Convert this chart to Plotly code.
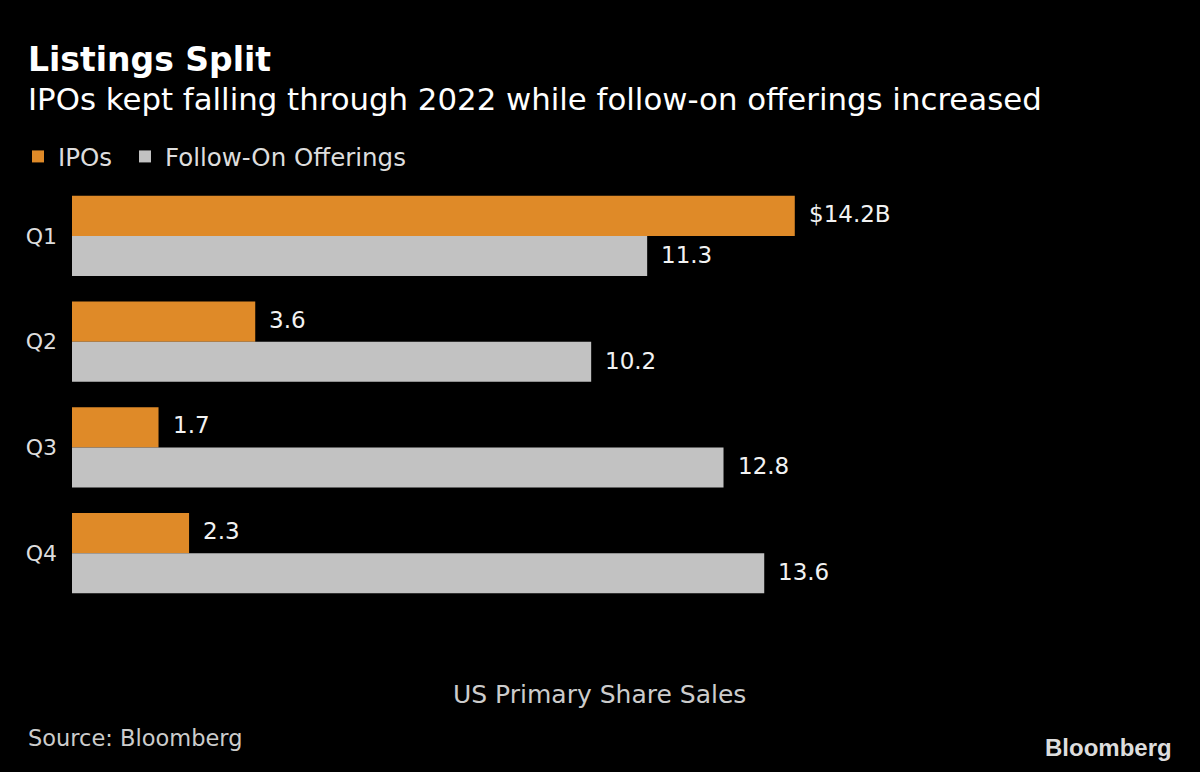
import plotly.graph_objects as go

quarters = ["Q1", "Q2", "Q3", "Q4"]
ipos = [14.2, 3.6, 1.7, 2.3]
follow_on = [11.3, 10.2, 12.8, 13.6]
ipo_labels = ["$14.2B", "3.6", "1.7", "2.3"]
follow_labels = ["11.3", "10.2", "12.8", "13.6"]

ORANGE = "#DF8A28"
GREY = "#C2C2C2"
FONT = "DejaVu Sans, sans-serif"

W, H = 1200, 772
ML, MR, MT, MB = 72, 74, 183, 166
PW, PH = W - ML - MR, H - MT - MB


def px_x(x):
    return (x - ML) / PW


def px_y(y):
    return (H - MB - y) / PH


fig = go.Figure()
fig.add_trace(go.Bar(y=quarters, x=ipos, orientation="h", name="IPOs", legend="legend",
                     marker=dict(color=ORANGE, line=dict(width=0))))
fig.add_trace(go.Bar(y=quarters, x=follow_on, orientation="h", name="Follow-On Offerings",
                     legend="legend2", marker=dict(color=GREY, line=dict(width=0))))

annotations = []
for q, v, t in zip(quarters, ipos, ipo_labels):
    annotations.append(dict(x=v, y=q, text=t, xref="x", yref="y", xanchor="left",
                            yanchor="middle", xshift=12, yshift=22, showarrow=False,
                            font=dict(size=23, color="#F2F2F2", family=FONT)))
for q, v, t in zip(quarters, follow_on, follow_labels):
    annotations.append(dict(x=v, y=q, text=t, xref="x", yref="y", xanchor="left",
                            yanchor="middle", xshift=12, yshift=-19, showarrow=False,
                            font=dict(size=23, color="#F2F2F2", family=FONT)))

annotations += [
    dict(text="<b>Listings Split</b>", xref="paper", yref="paper", x=px_x(26), y=px_y(59),
         xanchor="left", yanchor="middle", showarrow=False,
         font=dict(size=33, color="#FFFFFF", family=FONT)),
    dict(text="IPOs kept falling through 2022 while follow-on offerings increased", xref="paper", yref="paper",
         x=px_x(26), y=px_y(99), xanchor="left", yanchor="middle", showarrow=False,
         font=dict(size=30.8, color="#FFFFFF", family=FONT)),
    dict(text="US Primary Share Sales", xref="paper", yref="paper",
         x=px_x(599), y=px_y(694), xanchor="center", yanchor="middle", showarrow=False,
         font=dict(size=25, color="#CCCCCC", family=FONT)),
    dict(text="Source: Bloomberg", xref="paper", yref="paper",
         x=px_x(26), y=px_y(738), xanchor="left", yanchor="middle", showarrow=False,
         font=dict(size=22.5, color="#CCCCCC", family=FONT)),
    dict(text="<b>Bloomberg</b>", xref="paper", yref="paper",
         x=px_x(1174), y=px_y(747), xanchor="right", yanchor="middle", showarrow=False,
         font=dict(size=24, color="#DDDDDD", family="Liberation Sans, Arial, sans-serif")),
]

legend_common = dict(orientation="h", xref="container", yref="container",
                     y=1 - 134 / H, xanchor="left", yanchor="top",
                     font=dict(size=24.5, color="#DDDDDD", family=FONT),
                     bgcolor="rgba(0,0,0,0)")

fig.update_layout(
    width=W, height=H,
    paper_bgcolor="#000000", plot_bgcolor="#000000",
    margin=dict(l=ML, r=MR, t=MT, b=MB, autoexpand=False),
    barmode="group", bargap=0.243, bargroupgap=0,
    font=dict(family=FONT, color="#FFFFFF"),
    showlegend=True,
    legend=dict(x=18 / W, **legend_common),
    legend2=dict(x=125 / W, **legend_common),
    xaxis=dict(range=[0, PW / 50.9], visible=False, showgrid=False, zeroline=False),
    yaxis=dict(autorange="reversed", showgrid=False, zeroline=False, showline=False,
               ticks="", tickfont=dict(size=22, color="#DDDDDD", family=FONT), ticklabelstandoff=14),
    annotations=annotations,
)

fig.write_html("out.html", config={"displayModeBar": False},
               post_script="document.body.style.margin='0';document.body.style.background='#000';")
